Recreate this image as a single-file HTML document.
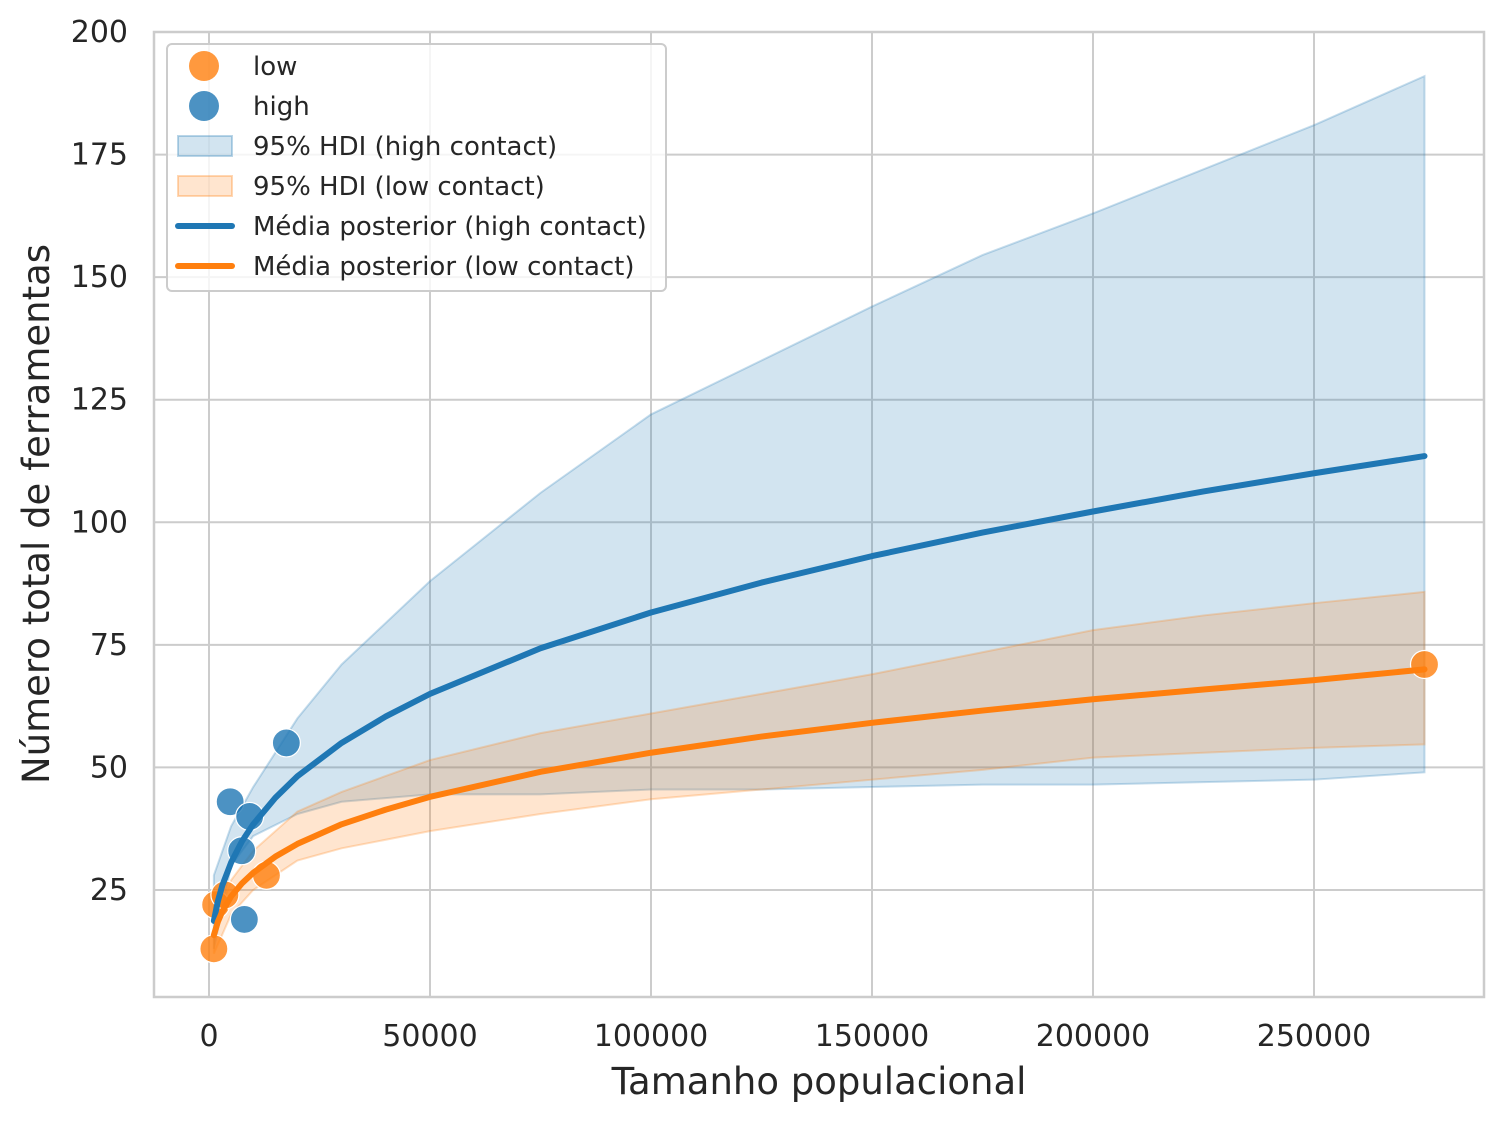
<!DOCTYPE html>
<html><head><meta charset="utf-8"><style>
html,body{margin:0;padding:0;background:#fff;}
svg{display:block;font-family:"DejaVu Sans","Liberation Sans",sans-serif;}
</style></head><body>
<svg id="chart" width="1504" height="1121" viewBox="0 0 1504 1121" xmlns="http://www.w3.org/2000/svg">
<rect width="1504" height="1121" fill="#fff"/>
<g id="grid"></g><g id="bands"></g><g id="pts"></g><g id="lines"></g><g id="axes"></g><g id="legend"></g>
</svg>
<script>
const xTicks=[0,50000,100000,150000,200000,250000];
const yTicks=[25,50,75,100,125,150,175,200];
const lowX=[1100,1500,3600,13000,275000];
const lowY=[13,22,24,28,71];
const highX=[4791,7400,8000,9200,17500];
const highY=[43,33,19,40,55];
const meanX=[1100,2000,3000,5000,7500,10000,15000,20000,30000,40000,50000,75000,100000,125000,150000,175000,200000,225000,250000,275000];
const meanHigh=[18.7,22.7,25.9,30.6,35.0,38.4,43.8,48.2,55.0,60.4,65,74.3,81.6,87.7,93.1,97.9,102.2,106.3,110.0,113.5];
const meanLow=[15.8,18.5,20.6,23.7,26.4,28.5,31.8,34.4,38.4,41.4,44,49.1,53.0,56.3,59.1,61.6,63.9,65.9,67.8,70];
const bandX=[1100,5000,10000,20000,30000,50000,75000,100000,125000,150000,175000,200000,225000,250000,275000];
const highUpper=[28,38,46,60,71,88,106,122,133,144,154.5,163,172,181,191];
const highLower=[13,30,36,40.5,43,44.5,44.5,45.5,45.5,46,46.5,46.5,47,47.5,49];
const lowUpper=[17,27,33,41,45,51.5,57,61,65,69,73.5,78,81,83.5,85.8];
const lowLower=[12,20,25,31,33.5,37,40.5,43.5,45.5,47.5,49.5,52,53,54,54.7];

const L=154,R=1484,T=32,B=997;
const sx=v=>209+v*(1105/250000);
const sy=v=>890-(v-25)*(858/175);
const NS="http://www.w3.org/2000/svg";
function mk(tag,attrs,parent){const e=document.createElementNS(NS,tag);for(const k in attrs)e.setAttribute(k,attrs[k]);parent.appendChild(e);return e;}
const grid=document.getElementById('grid'),bands=document.getElementById('bands'),pts=document.getElementById('pts'),lines=document.getElementById('lines'),axes=document.getElementById('axes'),legend=document.getElementById('legend');

xTicks.forEach(t=>{
  const l=mk('line',{x1:sx(t),x2:sx(t),y1:T,y2:B,stroke:'#cccccc','stroke-width':2},grid);
  
  
  const tx=mk('text',{x:sx(t),y:1046,'text-anchor':'middle','font-size':30,fill:'#262626'},axes);
  tx.textContent=t;
  
  
});
yTicks.forEach(t=>{
  const l=mk('line',{x1:L,x2:R,y1:sy(t),y2:sy(t),stroke:'#cccccc','stroke-width':2},grid);
  
  
  const tx=mk('text',{x:128,y:sy(t)+10,'text-anchor':'end','font-size':30,fill:'#262626'},axes);
  tx.textContent=t;
  
  
});
const frame=mk('rect',{x:L,y:T,width:R-L,height:B-T,fill:'none',stroke:'#cccccc','stroke-width':2.5},axes);



function band(up,lo,color,name){
  let d='M'+bandX.map((x,i)=>sx(x)+','+sy(up[i])).join('L');
  for(let i=bandX.length-1;i>=0;i--)d+='L'+sx(bandX[i])+','+sy(lo[i]);
  const p=mk('path',{d:d+'Z',fill:color,'fill-opacity':0.2,stroke:color,'stroke-opacity':0.25,'stroke-width':2},bands);
  
  
}
band(highUpper,highLower,'#1f77b4','hdi-band-high');
band(lowUpper,lowLower,'#ff7f0e','hdi-band-low');

function points(xs,ys,color,name){
  xs.forEach((x,i)=>{
    const c=mk('circle',{cx:sx(x),cy:sy(ys[i]),r:14,fill:color,'fill-opacity':0.8,stroke:'#fff','stroke-width':1.2},pts);
    
    
  });
}
points(lowX,lowY,'#ff7f0e','point-low');
points(highX,highY,'#1f77b4','point-high');

function line(ys,color,name){
  const p=mk('path',{d:'M'+meanX.map((x,i)=>sx(x)+','+sy(ys[i])).join('L'),fill:'none',stroke:color,'stroke-width':6,'stroke-linecap':'round','stroke-linejoin':'round'},lines);
  
  
}
line(meanHigh,'#1f77b4','mean-line-high');
line(meanLow,'#ff7f0e','mean-line-low');

const xl=mk('text',{x:819,y:1094,'text-anchor':'middle','font-size':37,fill:'#262626'},axes);
xl.textContent='Tamanho populacional';


const yl=mk('text',{x:0,y:0,'text-anchor':'middle','font-size':37,fill:'#262626',transform:'translate(49,514) rotate(-90)'},axes);
yl.textContent='Número total de ferramentas';



const lb=mk('rect',{x:167,y:44,width:499,height:247,rx:5,fill:'#fff','fill-opacity':0.8,stroke:'#cccccc','stroke-width':2},legend);


const items=[
 ['circle','#ff7f0e','low','legend-entry-low'],
 ['circle','#1f77b4','high','legend-entry-high'],
 ['rect','#1f77b4','95% HDI (high contact)','legend-entry-hdi-high'],
 ['rect','#ff7f0e','95% HDI (low contact)','legend-entry-hdi-low'],
 ['line','#1f77b4','Média posterior (high contact)','legend-entry-mean-high'],
 ['line','#ff7f0e','Média posterior (low contact)','legend-entry-mean-low']
];
items.forEach((it,i)=>{
  const y=66+i*40;
  const g=mk('g',{},legend);
  
  
  if(it[0]==='circle')mk('circle',{cx:204,cy:y,r:15,fill:it[1],'fill-opacity':0.8},g);
  else if(it[0]==='rect')mk('rect',{x:178,y:y-10,width:54,height:20,fill:it[1],'fill-opacity':0.2,stroke:it[1],'stroke-opacity':0.3,'stroke-width':2},g);
  else mk('line',{x1:178,x2:232,y1:y,y2:y,stroke:it[1],'stroke-width':6,'stroke-linecap':'round'},g);
  const t=mk('text',{x:253,y:y+9,'font-size':26,fill:'#262626'},g);
  t.textContent=it[2];
});
</script>
</body></html>
